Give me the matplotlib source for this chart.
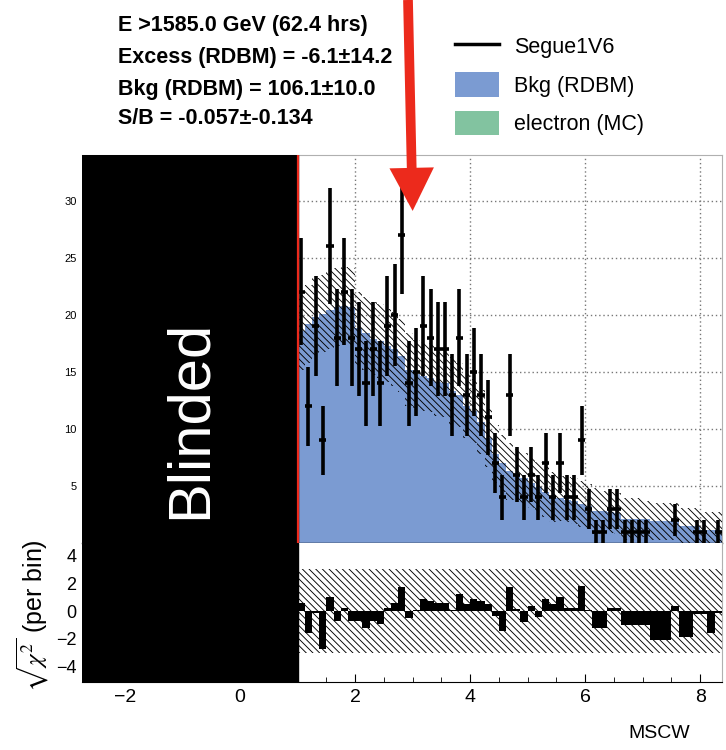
import numpy as np
import matplotlib
matplotlib.use("Agg")
import matplotlib.pyplot as plt
from matplotlib.lines import Line2D
from matplotlib.patches import Patch
from matplotlib.ticker import MultipleLocator, FixedLocator

plt.rcParams['font.family'] = ['Liberation Sans', 'DejaVu Sans']
plt.rcParams['mathtext.fontset'] = 'stix'
plt.rcParams['hatch.linewidth'] = 0.65

BS = chr(92)
HATCH = BS * 5

# ---------------- data ----------------
bin_start = 1.0
bin_width = 0.125

counts = [22, 12, 19, 9, 26, 18, 22, 18, 17, 14, 17, 14, 19, 20, 27, 14, 15, 19, 18, 17,
          17, 13, 18, 13, 15, 13, 11, 7, 4, 13, 6, 4, 6, 4, 7, 4, 7, 4, 4, 9,
          3, 1, 1, 3, 3, 1, 1, 1, 1, 0, 0, 0, 2, 0, 0, 1, 1, 0, 1]

bkg = [18.6, 19.2, 19.8, 20.1, 20.4, 20.7, 20.8, 20.7, 18.8, 18.4,
       17.9, 17.7, 17.3, 17.0, 16.4, 15.2, 14.8, 14.6, 14.5, 14.1,
       14.0, 13.3, 13.0, 12.0, 11.6, 10.6, 9.2, 7.8, 7.0, 6.3,
       6.0, 5.7, 5.3, 4.9, 4.5, 4.0, 3.9, 3.8, 3.7, 3.4,
       3.2, 2.8, 2.8, 2.7, 2.6, 2.1, 2.1, 2.1, 2.1, 1.9,
       1.9, 1.9, 1.9, 1.5, 1.5, 1.5, 1.1, 1.1, 1.1]

bkg_err = [3.4, 3.4, 3.4, 3.4, 3.4, 3.4, 3.4, 3.4, 3.2, 3.2,
           3.2, 3.2, 3.2, 3.2, 3.2, 3.2, 3.0, 3.0, 3.0, 3.0,
           3.0, 3.0, 2.8, 2.8, 2.8, 2.8, 2.5, 2.5, 2.5, 2.5,
           2.2, 2.2, 2.2, 2.2, 2.2, 2.2, 2.0, 2.0, 2.0, 2.0,
           2.0, 2.0, 1.8, 1.8, 1.8, 1.8, 1.8, 1.8, 1.6, 1.6,
           1.6, 1.6, 1.6, 1.6, 1.6, 1.6, 1.6, 1.6, 1.6]

resid = [0.6, -1.6, -0.1, -2.7, 1.0, -0.7, 0.25, -0.7, -0.7, -1.2,
         -0.7, -0.95, 0.25, 0.6, 1.75, -0.5, 0.1, 0.85, 0.7, 0.55,
         0.55, 0.1, 1.2, 0.5, 0.85, 0.75, 0.5, -0.35, -1.45, 1.7,
         0.15, -0.8, 0.35, -0.45, 0.85, 0.5, 1.0, 0.25, 0.25, 1.8,
         0.05, -1.2, -1.2, 0.25, 0.25, -1.0, -1.0, -1.0, -1.0, -2.1,
         -2.1, -2.1, 0.35, -1.85, -1.85, -0.2, -0.2, -1.6, -0.1]

resid_band = 3.0
blind_lo, blind_hi = -2.75, 1.0
x_max = 8.38

info_lines = ["E >1585.0 GeV (62.4 hrs)",
              "Excess (RDBM) = -6.1\u00b114.2",
              "Bkg (RDBM) = 106.1\u00b110.0",
              "S/B = -0.057\u00b1-0.134"]
legend_labels = ["Segue1V6", "Bkg (RDBM)", "electron (MC)"]

# ---------------- derived ----------------
counts = np.array(counts, float)
bkg = np.array(bkg)
bkg_err = np.array(bkg_err)
resid = np.array(resid)
nb = len(counts)
edges = bin_start + bin_width * np.arange(nb + 1)
centers = 0.5 * (edges[:-1] + edges[1:])

BLUE = '#7b9bd2'
GREEN = '#82c3a0'
RED = '#ec2a1c'

W, H = 726, 750
fig = plt.figure(figsize=(W / 100, H / 100), dpi=100)
L = 82 / W
Wd = (722 - 82) / W
ax = fig.add_axes([L, 1 - 543 / H, Wd, (543 - 155) / H])
ax2 = fig.add_axes([L, 1 - 682 / H, Wd, (682 - 543) / H])

# ---- main panel ----
ax.stairs(bkg, edges, fill=True, color=BLUE, zorder=2)
ax.stairs(bkg + bkg_err, edges, baseline=bkg - bkg_err, fill=True,
          facecolor='none', edgecolor='black', hatch=HATCH, linewidth=0, zorder=3)
m = counts > 0
ax.errorbar(centers[m], counts[m], xerr=bin_width / 2, yerr=np.sqrt(counts[m]),
            fmt='none', ecolor='black', elinewidth=2.6, capsize=0, zorder=4)
ax.axvspan(blind_lo, blind_hi, color='black', zorder=6)
ax.axvline(blind_hi, color=RED, lw=1.6, zorder=7)

ax.set_xlim(blind_lo, x_max)
ax.set_ylim(0, 34)
ax.set_axisbelow(True)
ax.xaxis.set_major_locator(FixedLocator([2, 4, 6, 8]))
ax.yaxis.set_major_locator(FixedLocator([5, 10, 15, 20, 25, 30]))
ax.grid(True, color='#777777', linestyle=(0, (1, 2)), linewidth=1.0)
ax.tick_params(axis='x', length=0, labelbottom=False)
ax.tick_params(axis='y', length=0, labelsize=8, pad=4)
for s in ['top', 'right']:
    ax.spines[s].set_color('#b0b0b0')
ax.spines['left'].set_visible(False)
ax.spines['bottom'].set_linewidth(1.0)

# ---- ratio panel ----
ax2.fill_between([blind_hi, x_max], [-resid_band] * 2, [resid_band] * 2,
                 facecolor='none', edgecolor='black', hatch=HATCH, linewidth=0, zorder=2)
ax2.bar(centers, resid, width=bin_width, color='black', linewidth=0, zorder=3)
ax2.axvspan(blind_lo, blind_hi, color='black', zorder=6)
ax2.set_xlim(blind_lo, x_max)
ax2.set_ylim(-5.1, 4.9)
ax2.xaxis.set_major_locator(FixedLocator([-2, 0, 2, 4, 6, 8]))
ax2.xaxis.set_minor_locator(MultipleLocator(0.5))
ax2.yaxis.set_major_locator(FixedLocator([-4, -2, 0, 2, 4]))
ax2.tick_params(axis='x', which='major', direction='in', length=6, labelsize=14, pad=5)
ax2.tick_params(axis='x', which='minor', direction='in', length=3.5)
ax2.tick_params(axis='y', length=0, labelsize=13, pad=4)
ax2.spines['top'].set_visible(False)
ax2.spines['left'].set_visible(False)
ax2.spines['right'].set_color('#b0b0b0')

# ---- texts ----
ys = [25, 57, 89, 118]
for t, y in zip(info_lines, ys):
    fig.text(118 / W, 1 - y / H, t, fontsize=15.5, fontweight='bold', ha='left', va='center')

handles = [Line2D([], [], color='black', lw=2.5),
           Patch(facecolor=BLUE, edgecolor='none'),
           Patch(facecolor=GREEN, edgecolor='none')]
fig.legend(handles, legend_labels, loc='upper left', bbox_to_anchor=(455 / W, 1 - 34 / H),
           frameon=False, fontsize=15.5, handlelength=2.05, handleheight=1.35,
           handletextpad=0.68, labelspacing=0.66, borderpad=0, borderaxespad=0)

fig.text(190 / W, 1 - 419 / H, 'Blinded', rotation=90, color='white', fontsize=43,
         ha='center', va='center', zorder=10)
fig.text(33 / W, 1 - 616 / H, r'$\sqrt{\chi^{2}}$ (per bin)', rotation=90, fontsize=18,
         ha='center', va='center')
fig.text(690 / W, 1 - 733 / H, 'MSCW', fontsize=14, ha='right', va='center')

ax.annotate('', xy=(3.0, 29.1), xycoords='data', xytext=(408 / W, 1.0),
            textcoords='figure fraction', annotation_clip=False, zorder=20,
            arrowprops=dict(arrowstyle='simple,head_length=31,head_width=32,tail_width=7',
                            mutation_scale=1, color=RED, lw=0, shrinkA=0, shrinkB=0))

fig.savefig('out.png', dpi=100)
